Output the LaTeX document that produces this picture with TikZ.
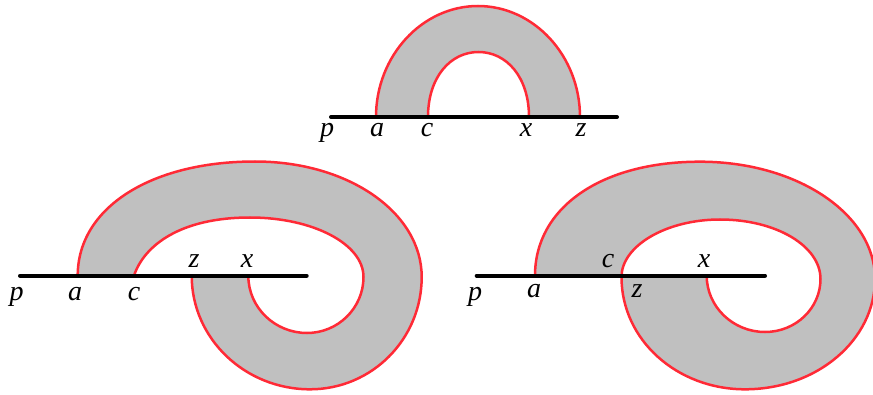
\documentclass[tikz,border=0pt]{standalone}
\usepackage{fontspec}
\setmainfont{Liberation Serif}
\usetikzlibrary{positioning}
\definecolor{bandgray}{RGB}{192,192,192}
\definecolor{rimred}{HTML}{FF2A36}
\tikzset{
	band/.style={
			fill=bandgray,
			draw=rimred,
			line width=2.5pt,
			even odd rule
		},
	axisline/.style={
			draw=black,
			line width=4pt,
			line cap=round
		},
	ptlabel/.style={
			font=\fontsize{28}{32}\selectfont\itshape,
			inner sep=0pt,
			anchor=base
		}
}

\begin{document}
\begin{tikzpicture}[x=1pt, y=1pt]
\useasboundingbox (0,0) rectangle (873,394);

% top: arch
\coordinate (tl) at (331,277);
\coordinate (tr) at (617,277);
\coordinate (ta) at (376,277);
\coordinate (tc) at (428,277);
\coordinate (tx) at (529,277);
\coordinate (tz) at (580,277);
\path[band] (ta) .. controls +(0,61) and +(-56,0) .. (478,388)
    .. controls +(56,0) and +(0,61) .. (tz) -- cycle
  (tc) .. controls +(0,40) and +(-28,0) .. (478.5,342)
    .. controls +(28,0) and +(0,40) .. (tx) -- cycle;
\draw[axisline] (tl) -- (tr);
\node[ptlabel] (tp) at (327,257) {p};
\node[ptlabel] (tap) at (377,257) {a};
\node[ptlabel] (tcp) at (427,257) {c};
\node[ptlabel] (txp) at (526,257) {x};
\node[ptlabel] (tzp) at (581,257) {z};

% bottom left: band winds under the line
\coordinate (ll) at (20,118.3);
\coordinate (lr) at (306.7,118.3);
\coordinate (la) at (77.7,118.3);
\coordinate (lc) at (134,118.3);
\coordinate (lz) at (191.7,118.3);
\coordinate (lx) at (248.3,118.3);
\path[band] (la) .. controls +(0,68) and +(-104,0) .. (255,232.5)
    .. controls +(94,0) and +(0,64) .. (421.7,117)
    .. controls +(0,-62) and +(62,0) .. (310,4.7)
    .. controls +(-65,0) and +(0,-63) .. (lz) -- cycle
  (lc) .. controls +(10,30) and +(-70,0) .. (250,176.5)
    .. controls +(63,0) and +(0,33) .. (363.5,117)
    .. controls +(0,-31) and +(31,0) .. (307,61)
    .. controls +(-32,0) and +(0,-32) .. (lx) -- cycle;
\draw[axisline] (ll) -- (lr);
\node[ptlabel] (lp) at (16.7,94) {p};
\node[ptlabel] (lap) at (75,94) {a};
\node[ptlabel] (lcp) at (134,94) {c};
\node[ptlabel] (lzp) at (194,126) {z};
\node[ptlabel] (lxp) at (247,126) {x};

% bottom right: outer rim runs on into the inner one
\coordinate (rl) at (476.7,118.3);
\coordinate (rr) at (765,118.3);
\coordinate (ra) at (535,118.3);
\coordinate (rcz) at (621.5,117);
\coordinate (rx) at (706.7,118.3);
\path[band] (ra) .. controls +(0,68) and +(-99,0) .. (700,232.3)
    .. controls +(97,0) and +(0,65) .. (875,115)
    .. controls +(0,-61) and +(72,0) .. (745,4.7)
    .. controls +(-68,0) and +(0,-63) .. (rcz)
    .. controls +(0,31) and +(-54,0) .. (720,174.5)
    .. controls +(56,0) and +(0,33) .. (820.5,115)
    .. controls +(0,-29) and +(31,0) .. (765,62)
    .. controls +(-32,0) and +(0,-31) .. (rx) -- cycle;
\draw[axisline] (rl) -- (rr);
\node[ptlabel] (rp) at (475,94) {p};
\node[ptlabel] (rap) at (534,97) {a};
\node[ptlabel] (rcp) at (608,126) {c};
\node[ptlabel] (rzp) at (637,97) {z};
\node[ptlabel] (rxp) at (704,126) {x};
\end{tikzpicture}
\end{document}
